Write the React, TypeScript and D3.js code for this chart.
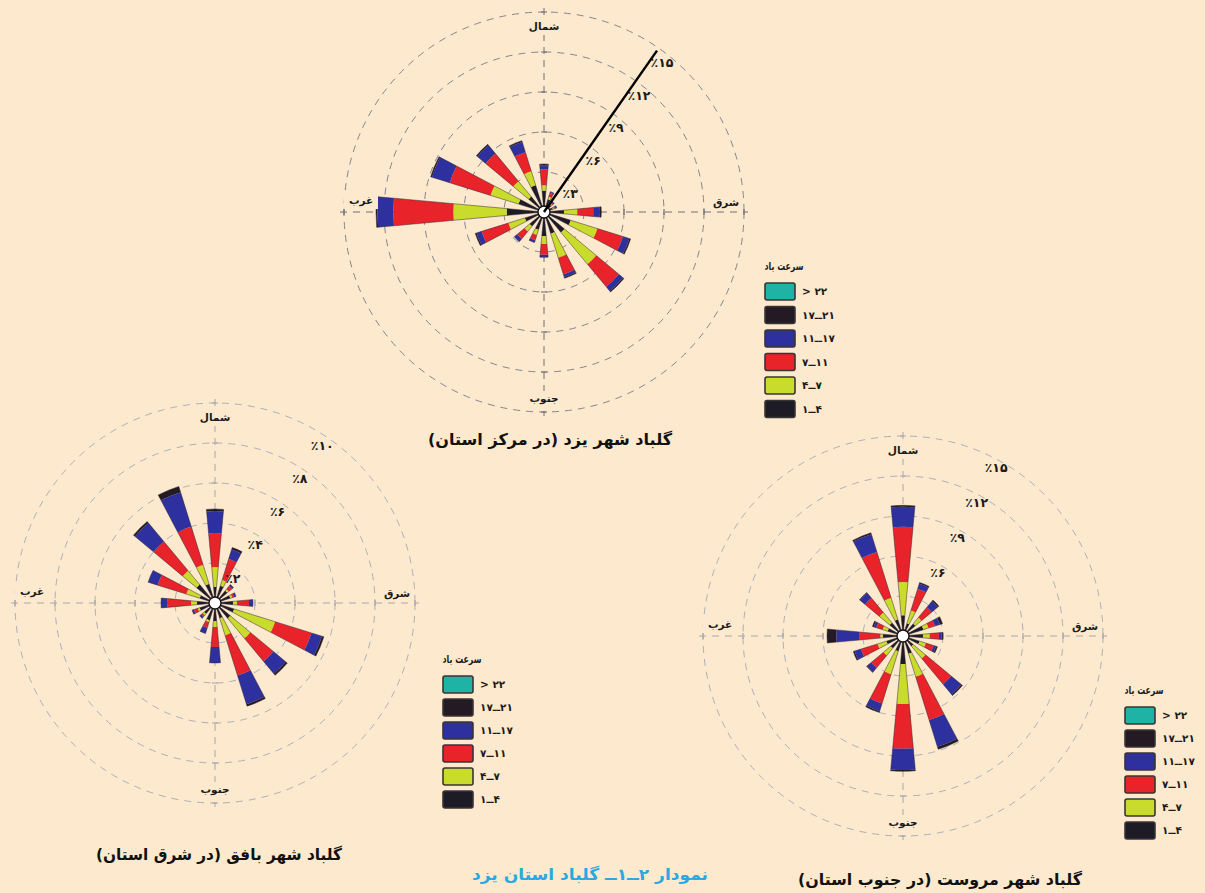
import * as d3 from "d3";

// 16 compass directions, clockwise from north
const directions = [
  "N", "NNE", "NE", "ENE", "E", "ESE", "SE", "SSE",
  "S", "SSW", "SW", "WSW", "W", "WNW", "NW", "NNW",
];

// speed classes stacked from the centre outwards (percent of time)
const speedKeys = [0, 1, 2, 3, 4];
const speedColors = ["#1d1c26", "#c9db2b", "#e8232a", "#2f309f", "#231a24"];

// legend, top to bottom
const legendLabels = ["> ۲۲", "۱۷ــ۲۱", "۱۱ــ۱۷", "۷ــ۱۱", "۴ــ۷", "۱ــ۴"];
const legendColors = ["#1fb3a6", "#231a24", "#2f309f", "#e8232a", "#c9db2b", "#1d1c26"];
const legendTitle = "سرعت باد";

const compassLabels = ["شمال", "شرق", "جنوب", "غرب"];

// rows follow `directions`, columns follow speed classes 1-4, 4-7, 7-11, 11-17, 17-21
const yazdValues = [
  [1.6, 0.4, 1.2, 0.3, 0.1],
  [1.0, 0.2, 0.3, 0.1, 0.0],
  [0.7, 0.1, 0.1, 0.1, 0.0],
  [0.7, 0.1, 0.1, 0.1, 0.0],
  [1.5, 1.0, 1.2, 0.5, 0.1],
  [2.1, 2.1, 2.0, 0.5, 0.1],
  [2.0, 3.1, 2.2, 0.4, 0.1],
  [1.7, 1.9, 1.3, 0.2, 0.1],
  [1.8, 0.6, 0.8, 0.2, 0.0],
  [1.4, 0.4, 0.4, 0.2, 0.0],
  [1.4, 0.5, 0.7, 0.3, 0.0],
  [1.5, 1.3, 2.1, 0.4, 0.1],
  [2.8, 4.0, 4.5, 1.2, 0.1],
  [2.0, 2.2, 3.2, 1.4, 0.1],
  [1.5, 1.5, 2.7, 0.8, 0.1],
  [2.1, 1.1, 1.5, 0.8, 0.1],
];
const yazdRings = [3, 6, 9, 12, 15];
const yazdRingLabels = ["٪۳", "٪۶", "٪۹", "٪۱۲", "٪۱۵"];
const yazdTitle = "گلباد شهر یزد (در مرکز استان)";

const bafghValues = [
  [0.8, 1.0, 1.7, 1.1, 0.1],
  [0.9, 0.3, 1.1, 0.5, 0.1],
  [0.8, 0.1, 0.2, 0.1, 0.0],
  [0.8, 0.1, 0.1, 0.1, 0.0],
  [0.9, 0.2, 0.6, 0.2, 0.0],
  [1.0, 2.15, 1.9, 0.55, 0.1],
  [1.0, 1.3, 1.5, 0.8, 0.1],
  [0.8, 0.9, 2.1, 1.5, 0.1],
  [0.9, 0.3, 1.0, 0.8, 0.0],
  [0.9, 0.1, 0.3, 0.3, 0.0],
  [0.7, 0.1, 0.1, 0.1, 0.0],
  [0.8, 0.1, 0.2, 0.1, 0.0],
  [0.9, 0.3, 1.2, 0.3, 0.0],
  [0.8, 0.7, 1.5, 0.5, 0.0],
  [1.2, 0.9, 1.9, 1.2, 0.1],
  [1.0, 1.0, 2.0, 1.8, 0.3],
];
const bafghRings = [2, 4, 6, 8, 10];
const bafghRingLabels = ["٪۲", "٪۴", "٪۶", "٪۸", "٪۱۰"];
const bafghTitle = "گلباد شهر بافق (در شرق استان)";

const marvastValues = [
  [1.55, 2.5, 4.15, 1.5, 0.1],
  [1.0, 1.0, 1.7, 0.4, 0.1],
  [1.2, 0.6, 1.0, 0.6, 0.1],
  [1.6, 0.4, 0.5, 0.4, 0.2],
  [1.5, 0.5, 0.7, 0.2, 0.1],
  [1.3, 0.5, 0.6, 0.2, 0.1],
  [1.0, 1.2, 2.5, 1.0, 0.1],
  [1.4, 1.8, 3.4, 2.1, 0.2],
  [2.1, 3.0, 3.35, 1.6, 0.1],
  [1.2, 1.8, 2.3, 0.6, 0.1],
  [1.2, 0.7, 1.2, 0.4, 0.05],
  [1.3, 0.7, 1.3, 0.5, 0.1],
  [1.5, 0.2, 1.6, 1.7, 0.7],
  [1.2, 0.4, 0.5, 0.2, 0.1],
  [1.3, 1.0, 1.4, 0.5, 0.05],
  [1.3, 1.7, 3.6, 1.4, 0.1],
];
const marvastRings = [3, 6, 9, 12, 15];
const marvastRingLabels = ["", "٪۶", "٪۹", "٪۱۲", "٪۱۵"];
const marvastTitle = "گلباد شهر مروست (در جنوب استان)";

const caption = "نمودار ۲ــ۱ــ گلباد استان یزد";

const bg = "#fde9cd";
const font = "'DejaVu Sans', sans-serif";
const outerRadius = 200;
const calmRadius = 6;
const petalWidth = (10.5 * Math.PI) / 180;

type RoseProps = {
  cx: number;
  cy: number;
  values: number[][];
  rings: number[];
  ringLabels: string[];
  labelAngle: number;
  labelInset: number;
  labelDx: number;
  labelDy: number;
  ringColor: string;
  axisColor: string;
  showLine?: boolean;
};

function WindRose(p: RoseProps) {
  const maxPct = p.rings[p.rings.length - 1];
  const r = d3.scaleLinear([0, maxPct], [0, outerRadius]);
  const angle = d3
    .scaleLinear()
    .domain([0, directions.length])
    .range([0, 2 * Math.PI]);
  const series = d3
    .stack<number[], number>()
    .keys(speedKeys)
    .value((d, k) => d[k])(p.values);
  const arc = d3.arc<any>();
  const totals = p.values.map((row) => d3.sum(row));
  const la = (p.labelAngle * Math.PI) / 180;

  const ticks: string[] = [];
  p.rings.forEach((v) => {
    const rr = r(v);
    ticks.push(`M${-3},${-rr}L3,${-rr}M${-3},${rr}L3,${rr}`);
    ticks.push(`M${-rr},-3L${-rr},3M${rr},-3L${rr},3`);
  });

  const compassPos: [number, number][] = [
    [0, -185],
    [182, -9],
    [0, 187],
    [-183, -11],
  ];

  return (
    <g transform={`translate(${p.cx},${p.cy})`}>
      {p.rings.map((v) => (
        <circle
          key={v}
          r={r(v)}
          fill="none"
          stroke={p.ringColor}
          strokeWidth={1}
          strokeDasharray="7 6"
        />
      ))}
      <path
        d={`M${-outerRadius - 4},0H${outerRadius + 4}M0,${-outerRadius - 4}V${outerRadius + 4}`}
        stroke={p.axisColor}
        strokeWidth={1}
        strokeDasharray="7 6"
      />
      <path d={ticks.join("")} stroke={p.axisColor} strokeWidth={1.2} />

      {series.map((s, k) =>
        s.map((seg, i) => {
          const inner = Math.max(calmRadius, r(seg[0]));
          const outer = r(seg[1]);
          if (outer <= inner) return null;
          const a = angle(i);
          return (
            <path
              key={`${k}-${i}`}
              d={arc({
                innerRadius: inner,
                outerRadius: outer,
                startAngle: a - petalWidth / 2,
                endAngle: a + petalWidth / 2,
              }) ?? ""}
              fill={speedColors[k]}
            />
          );
        }),
      )}
      {totals.map((t, i) => {
        const a = angle(i);
        return (
          <path
            key={i}
            d={arc({
              innerRadius: calmRadius,
              outerRadius: r(t),
              startAngle: a - petalWidth / 2,
              endAngle: a + petalWidth / 2,
            }) ?? ""}
            fill="none"
            stroke="#2a2030"
            strokeOpacity={0.6}
            strokeWidth={0.8}
          />
        );
      })}
      <circle r={calmRadius} fill="#fff" stroke="#111" strokeWidth={1.4} />

      {p.showLine && (
        <line
          x1={0}
          y1={0}
          x2={Math.sin(la) * 197}
          y2={-Math.cos(la) * 197}
          stroke="#000"
          strokeWidth={2.4}
        />
      )}
      {p.rings.map((v, i) => {
        const rr = r(v) - p.labelInset;
        return (
          <text
            key={v}
            x={Math.sin(la) * rr + p.labelDx}
            y={-Math.cos(la) * rr + p.labelDy}
            textAnchor="middle"
            dominantBaseline="middle"
            fontFamily={font}
            fontWeight="bold"
            fontSize={12.5}
            fill="#1a1a1a"
            style={{ direction: "ltr", unicodeBidi: "bidi-override" }}
          >
            {p.ringLabels[i]}
          </text>
        );
      })}
      {compassLabels.map((t, i) => (
        <g key={t} transform={`translate(${compassPos[i][0]},${compassPos[i][1]})`}>
          <rect x={-17} y={-8} width={34} height={16} fill={bg} />
          <text
            textAnchor="middle"
            dominantBaseline="middle"
            fontFamily={font}
            fontWeight="bold"
            fontSize={10.5}
            fill="#1a1a1a"
            style={{ direction: "rtl" }}
          >
            {t}
          </text>
        </g>
      ))}
    </g>
  );
}

function Legend({ x, y, step }: { x: number; y: number; step: number }) {
  return (
    <g transform={`translate(${x},${y})`}>
      <text
        x={19}
        y={-13}
        textAnchor="middle"
        fontFamily={font}
        fontWeight="bold"
        fontSize={11}
        fill="#1a1a1a"
        textLength={39}
        lengthAdjust="spacingAndGlyphs"
        style={{ direction: "rtl" }}
      >
        {legendTitle}
      </text>
      {legendLabels.map((t, i) => (
        <g key={t} transform={`translate(0,${i * step})`}>
          <rect
            width={30}
            height={17}
            rx={2}
            fill={legendColors[i]}
            stroke="#3a3535"
            strokeWidth={1.6}
          />
          <text
            x={37}
            y={9}
            dominantBaseline="middle"
            fontFamily={font}
            fontWeight="bold"
            fontSize={10.5}
            fill="#1a1a1a"
            style={{ direction: "ltr", unicodeBidi: "bidi-override" }}
          >
            {t}
          </text>
        </g>
      ))}
    </g>
  );
}

function Title({
  x,
  y,
  width,
  text,
  color = "#111",
  size = 16,
}: {
  x: number;
  y: number;
  width: number;
  text: string;
  color?: string;
  size?: number;
}) {
  return (
    <text
      x={x}
      y={y}
      textAnchor="middle"
      dominantBaseline="middle"
      fontFamily={font}
      fontWeight="bold"
      fontSize={size}
      fill={color}
      textLength={width}
      lengthAdjust="spacingAndGlyphs"
      style={{ direction: "rtl" }}
    >
      {text}
    </text>
  );
}

export default function App() {
  const width = 1205;
  const height = 893;
  return (
    <svg
      width={width}
      height={height}
      style={{ position: "absolute", left: 0, top: 0 }}
    >
      <rect width={width} height={height} fill={bg} />
      <WindRose
        cx={544}
        cy={212}
        values={yazdValues}
        rings={yazdRings}
        ringLabels={yazdRingLabels}
        labelAngle={35}
        labelInset={10}
        labelDx={9}
        labelDy={7}
        ringColor="#85858e"
        axisColor="#6e6e78"
        showLine
      />
      <WindRose
        cx={215}
        cy={603}
        values={bafghValues}
        rings={bafghRings}
        ringLabels={bafghRingLabels}
        labelAngle={34}
        labelInset={10}
        labelDx={1}
        labelDy={1}
        ringColor="#adafbb"
        axisColor="#a4a6b3"
      />
      <WindRose
        cx={903}
        cy={636}
        values={marvastValues}
        rings={marvastRings}
        ringLabels={marvastRingLabels}
        labelAngle={29}
        labelInset={8}
        labelDx={0}
        labelDy={0}
        ringColor="#adafbb"
        axisColor="#a4a6b3"
      />
      <Legend x={765} y={283} step={23.5} />
      <Legend x={443} y={676} step={23} />
      <Legend x={1125} y={707} step={23} />
      <Title x={550} y={440} width={244} text={yazdTitle} />
      <Title x={219} y={855} width={246} text={bafghTitle} />
      <Title x={940} y={880} width={284} text={marvastTitle} />
      <Title x={590} y={875} width={236} text={caption} color="#28a9e1" />
    </svg>
  );
}
